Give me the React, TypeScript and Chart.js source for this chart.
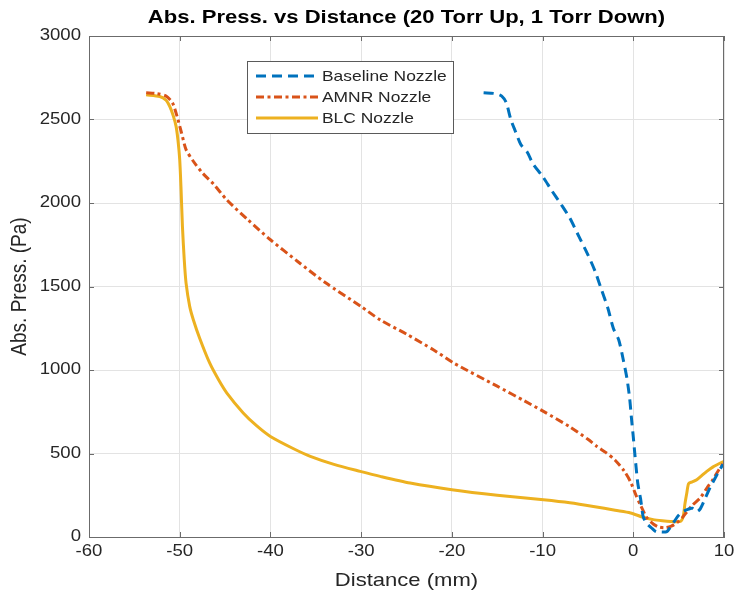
import React, { useEffect, useRef } from "react";
import { Chart, registerables } from "chart.js";

Chart.register(...registerables);

const FONT = '"Liberation Sans", Arial, Helvetica, sans-serif';
const TEXT = "#262626";
const AXIS = "#6b6b6b";
// text is drawn slightly wide, like the exported figure it reproduces
const TEXT_STRETCH = 1.16;

const titleText = "Abs. Press. vs Distance (20 Torr Up, 1 Torr Down)";
const xTitle = "Distance (mm)";
const yTitle = "Abs. Press. (Pa)";

const xTickValues = [-60, -50, -40, -30, -20, -10, 0, 10];
const yTickValues = [0, 500, 1000, 1500, 2000, 2500, 3000];

const seriesNames = ["Baseline Nozzle", "AMNR Nozzle", "BLC Nozzle"];
const seriesColors = ["#0072BD", "#D95319", "#EDB120"];
const seriesDashes: number[][] = [[10, 6], [8, 3.5, 3, 3.5], []];

// Baseline nozzle profile (distance mm, pressure Pa)
const baselineX = [
  -16.5, -15.2, -14.5, -14.0, -13.5, -13.0, -12.4, -11.7, -11.0, -10.0, -9.0,
  -8.0, -7.0, -6.0, -5.0, -4.2, -3.5, -2.8, -2.2, -1.6, -1.1, -0.7, -0.4, -0.2,
  0.0, 0.2, 0.5, 0.8, 1.1, 1.5, 2.1, 2.5, 3.0, 3.7, 4.1, 4.6, 5.0, 5.5, 6.0,
  6.5, 7.0, 7.4, 8.0, 8.5, 9.0, 9.5, 9.9,
];
const baselineY = [
  2660, 2655, 2640, 2600, 2500, 2430, 2350, 2305, 2230, 2160, 2075, 1995, 1910,
  1800, 1690, 1590, 1480, 1370, 1250, 1180, 1060, 950, 830, 710, 600, 480, 320,
  230, 120, 80, 50, 32, 30, 32, 60, 100, 130, 152, 165, 172, 152, 170, 240, 300,
  350, 400, 435,
];

// AMNR nozzle profile
const amnrX = [
  -53.7, -52.5, -51.5, -50.8, -50.3, -49.8, -49.3, -48.5, -47.5, -46.3, -44.8,
  -42.5, -40.0, -37.0, -34.0, -30.0, -27.9, -25.0, -22.0, -19.8, -15.0, -12.0,
  -9.9, -7.0, -5.0, -4.0, -3.0, -2.0, -1.0, -0.3, 0.3, 0.8, 1.5, 2.2, 2.8, 3.5,
  4.2, 4.8, 5.4, 5.9, 6.5, 7.4, 8.2, 8.8, 9.4, 9.9, 10.0,
];
const amnrY = [
  2660, 2655, 2640, 2600, 2520, 2420, 2320, 2250, 2180, 2115, 2018, 1900, 1780,
  1650, 1525, 1380, 1300, 1215, 1120, 1042, 903, 815, 752, 660, 585, 542, 505,
  460, 395, 330, 250, 190, 115, 78, 60, 55, 65, 85, 115, 150, 190, 235, 300, 345,
  400, 440, 450,
];

// BLC nozzle profile
const blcX = [
  -53.7, -52.2, -51.5, -51.1, -50.7, -50.4, -50.2, -50.0, -49.85, -49.7, -49.5,
  -49.3, -48.9, -48.5, -47.8, -46.7, -45.7, -44.8, -43.0, -41.5, -40.0, -37.5,
  -35.6, -33.0, -30.1, -27.9, -24.6, -20.0, -15.0, -9.9, -7.0, -4.4, -2.0, -0.3,
  1.0, 2.2, 3.2, 4.1, 5.2, 5.5, 5.7, 5.9, 6.1, 6.5, 7.0, 7.6, 8.1, 8.8, 9.6,
  10.0,
];
const blcY = [
  2648, 2638, 2615, 2578, 2520, 2459, 2380, 2260, 2080, 1860, 1660, 1520, 1381,
  1301, 1190, 1042, 940, 862, 743, 665, 602, 530, 483, 435, 393, 363, 323, 283,
  250, 223, 205, 183, 160, 144, 120, 104, 97, 93, 93, 123, 200, 263, 320, 330,
  343, 370, 393, 420, 443, 453,
];

const seriesX = [baselineX, amnrX, blcX];
const seriesY = [baselineY, amnrY, blcY];

function wideText(
  ctx: CanvasRenderingContext2D,
  text: string,
  x: number,
  y: number,
  align: CanvasTextAlign,
  rotate = 0
) {
  ctx.save();
  ctx.translate(x, y);
  ctx.scale(TEXT_STRETCH, 1);
  if (rotate) ctx.rotate(rotate);
  ctx.textAlign = align;
  ctx.textBaseline = "middle";
  ctx.fillText(text, 0, 0);
  ctx.restore();
}

// Draws the axes box with inward ticks, all labels and titles, and the legend
const decorations = {
  id: "decorations",
  afterDraw(chart: any) {
    const ctx = chart.ctx as CanvasRenderingContext2D;
    const area = chart.chartArea;
    const xs = chart.scales.x;
    const ys = chart.scales.y;
    ctx.save();

    // axes box
    ctx.strokeStyle = AXIS;
    ctx.lineWidth = 1;
    ctx.strokeRect(area.left + 0.5, area.top + 0.5, area.right - area.left - 1, area.bottom - area.top);

    // inward ticks on all four sides
    const tl = 5;
    ctx.beginPath();
    xTickValues.forEach((v) => {
      const px = Math.round(xs.getPixelForValue(v)) + 0.5;
      ctx.moveTo(px, area.bottom);
      ctx.lineTo(px, area.bottom - tl);
      ctx.moveTo(px, area.top);
      ctx.lineTo(px, area.top + tl);
    });
    yTickValues.forEach((v) => {
      const py = Math.round(ys.getPixelForValue(v)) + 0.5;
      ctx.moveTo(area.left, py);
      ctx.lineTo(area.left + tl, py);
      ctx.moveTo(area.right, py);
      ctx.lineTo(area.right - tl, py);
    });
    ctx.stroke();

    // tick labels
    ctx.fillStyle = TEXT;
    ctx.font = `16px ${FONT}`;
    xTickValues.forEach((v) => {
      wideText(ctx, String(v), xs.getPixelForValue(v), area.bottom + 15, "center");
    });
    yTickValues.forEach((v) => {
      wideText(ctx, String(v), area.left - 8, ys.getPixelForValue(v), "right");
    });

    // axis titles
    ctx.font = `19px ${FONT}`;
    wideText(ctx, xTitle, (area.left + area.right) / 2, 581, "center");
    wideText(ctx, yTitle, 20, (area.top + area.bottom) / 2, "center", -Math.PI / 2);

    // chart title
    ctx.fillStyle = "#000000";
    ctx.font = `bold 19px ${FONT}`;
    wideText(ctx, titleText, (area.left + area.right) / 2, 18, "center");

    // legend
    const lx = area.left + 158;
    const ly = area.top + 25;
    const lw = 206;
    const lh = 72;
    ctx.fillStyle = "#ffffff";
    ctx.fillRect(lx, ly, lw, lh);
    ctx.strokeStyle = "#5a5a5a";
    ctx.strokeRect(lx + 0.5, ly + 0.5, lw, lh);
    ctx.font = `15px ${FONT}`;
    chart.data.datasets.forEach((ds: any, i: number) => {
      const cy = ly + 15 + i * 21;
      ctx.save();
      ctx.strokeStyle = ds.borderColor;
      ctx.lineWidth = 3;
      ctx.setLineDash(ds.borderDash || []);
      ctx.beginPath();
      ctx.moveTo(lx + 9, cy);
      ctx.lineTo(lx + 71, cy);
      ctx.stroke();
      ctx.restore();
      ctx.fillStyle = TEXT;
      wideText(ctx, ds.label, lx + 75, cy + 1, "left");
    });
    ctx.restore();
  },
};

export default function App() {
  const canvasRef = useRef<HTMLCanvasElement | null>(null);

  useEffect(() => {
    const canvas = canvasRef.current;
    if (!canvas) return;
    const datasets = seriesNames.map((name, i) => ({
      label: name,
      data: seriesX[i].map((x, j) => ({ x, y: seriesY[i][j] })),
      borderColor: seriesColors[i],
      backgroundColor: seriesColors[i],
      borderWidth: 3,
      borderDash: seriesDashes[i],
      borderCapStyle: "butt" as const,
      borderJoinStyle: "round" as const,
      pointRadius: 0,
      tension: 0.25,
      fill: false,
    }));

    const chart = new Chart(canvas, {
      type: "line",
      data: { datasets },
      options: {
        responsive: false,
        animation: false,
        devicePixelRatio: 1,
        layout: { padding: { top: 36, right: 11, left: 0, bottom: 0 } },
        plugins: {
          legend: { display: false },
          title: { display: false },
          tooltip: { enabled: false },
        },
        scales: {
          x: {
            type: "linear",
            min: xTickValues[0],
            max: xTickValues[xTickValues.length - 1],
            afterFit: (s: any) => {
              s.height = 60;
            },
            ticks: { stepSize: 10, display: false },
            grid: { color: "#e3e3e3", lineWidth: 1, drawTicks: false },
            border: { color: AXIS, width: 1 },
          },
          y: {
            type: "linear",
            min: yTickValues[0],
            max: yTickValues[yTickValues.length - 1],
            afterFit: (s: any) => {
              s.width = 89;
            },
            ticks: { stepSize: 500, display: false },
            grid: { color: "#e3e3e3", lineWidth: 1, drawTicks: false },
            border: { color: AXIS, width: 1 },
          },
        },
      },
      plugins: [decorations],
    });
    return () => chart.destroy();
  }, []);

  return (
    <div style={{ position: "fixed", left: 0, top: 0, width: 735, height: 597, background: "#ffffff" }}>
      <canvas ref={canvasRef} width={735} height={597} style={{ display: "block" }} />
    </div>
  );
}
